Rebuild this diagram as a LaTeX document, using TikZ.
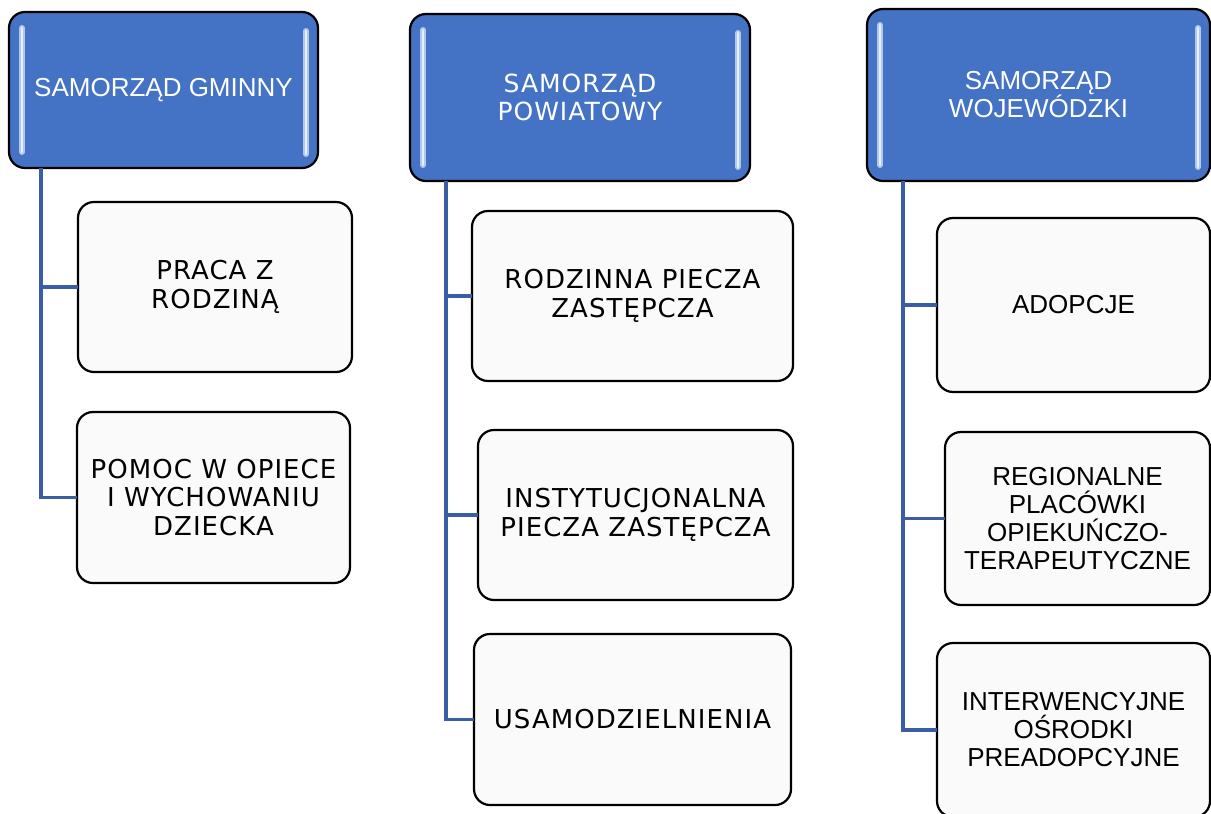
\documentclass[tikz,border=0pt]{standalone}
\usepackage{fontspec}
\usetikzlibrary{calc}
\newfontfamily\arialf{Liberation Sans}
\newfontfamily\verdf[LetterSpace=4]{DejaVu Sans}
\definecolor{hdrblue}{HTML}{4472C4}
\definecolor{connblue}{HTML}{3A5DA5}
\definecolor{boxfill}{HTML}{FAFAFA}
\definecolor{glowc}{HTML}{E4F0FF}
\tikzset{
  hdr/.style={draw=black, line width=2.2pt, fill=hdrblue, rounded corners=16pt, text=white,
    align=center, inner sep=0pt, outer sep=0pt, anchor=north west},
  childbox/.style={draw=black, line width=2.2pt, fill=boxfill, rounded corners=16pt, text=black,
    align=center, inner sep=0pt, outer sep=0pt, anchor=north west},
  conn/.style={draw=connblue, line width=3.2pt},
  glowwide/.style={draw=hdrblue!40!white, line width=6pt, line cap=round},
  glowthin/.style={draw=glowc, line width=2.8pt, line cap=round},
  arialtxt/.style={font=\arialf\fontsize{26}{28}\selectfont},
  verdtxt/.style={font=\verdf\fontsize{26}{28.5}\selectfont},
  verdhdr/.style={font=\verdf\fontsize{25}{27.5}\selectfont},
}
\newcommand\hdrglow[1]{%
  \draw[glowwide] ($(#1.north west)+(13,16)$) -- ($(#1.south west)+(13,-16)$);
  \draw[glowthin] ($(#1.north west)+(13,16)$) -- ($(#1.south west)+(13,-16)$);
  \draw[glowwide] ($(#1.north east)+(-12,19)$) -- ($(#1.south east)+(-12,-14)$);
  \draw[glowthin] ($(#1.north east)+(-12,19)$) -- ($(#1.south east)+(-12,-14)$);}
\begin{document}
\begin{tikzpicture}[x=1pt,y=-1pt]
\useasboundingbox (0,0) rectangle (1211,814);
\clip (0,0) rectangle (1211,814);
\fill[white] (0,0) rectangle (1211,814);

% headers
\node[hdr, arialtxt, minimum width=309pt, minimum height=156pt] (hG) at (9,12) {SAMORZĄD GMINNY};
\node[hdr, verdhdr, minimum width=340pt, minimum height=167pt] (hP) at (410,14) {SAMORZĄD\\POWIATOWY};
\node[hdr, arialtxt, minimum width=343pt, minimum height=172pt] (hW) at (867,9) {SAMORZĄD\\WOJEWÓDZKI};
\hdrglow{hG}
\hdrglow{hP}
\hdrglow{hW}

% trunk coordinates
\coordinate (tG) at ($(hG.south west)+(32,0)$);
\coordinate (tP) at ($(hP.south west)+(36,0)$);
\coordinate (tW) at ($(hW.south west)+(36,0)$);

% children
\node[childbox, verdtxt, minimum width=274pt, minimum height=170pt] (g1) at (78,202) {PRACA Z\\RODZINĄ};
\node[childbox, verdtxt, minimum width=273pt, minimum height=171pt] (g2) at (77,412) {POMOC W OPIECE\\I WYCHOWANIU\\DZIECKA};

\node[childbox, verdtxt, minimum width=321pt, minimum height=170pt] (p1) at (472,211) {RODZINNA PIECZA\\ZASTĘPCZA};
\node[childbox, verdtxt, minimum width=315pt, minimum height=170pt] (p2) at (478,430) {INSTYTUCJONALNA\\PIECZA ZASTĘPCZA};
\node[childbox, verdtxt, minimum width=317pt, minimum height=171pt] (p3) at (474,634) {USAMODZIELNIENIA};

\node[childbox, arialtxt, minimum width=273pt, minimum height=174pt] (w1) at (937,218) {ADOPCJE};
\node[childbox, arialtxt, minimum width=265pt, minimum height=173pt] (w2) at (945,432) {REGIONALNE\\PLACÓWKI\\OPIEKUŃCZO-\\TERAPEUTYCZNE};
\node[childbox, arialtxt, minimum width=273pt, minimum height=174pt] (w3) at (937,643) {INTERWENCYJNE\\OŚRODKI\\PREADOPCYJNE};

% connectors
\draw[conn] (tG) |- (g1.west);
\draw[conn] (tG) |- (g2.west);
\draw[conn] (tP) |- (p1.west);
\draw[conn] (tP) |- (p2.west);
\draw[conn] (tP) |- (p3.west);
\draw[conn] (tW) |- (w1.west);
\draw[conn] (tW) |- (w2.west);
\draw[conn] (tW) |- (w3.west);
\end{tikzpicture}
\end{document}
